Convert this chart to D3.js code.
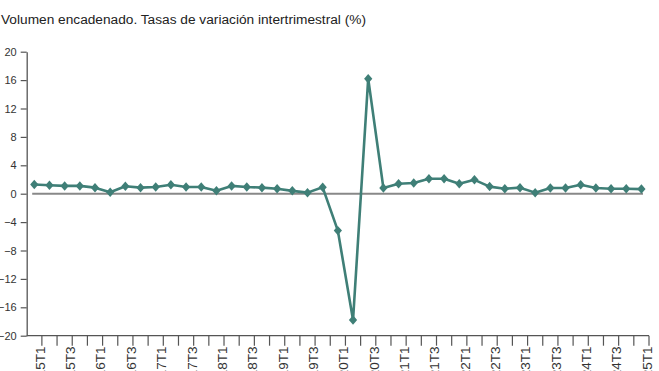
<!DOCTYPE html>
<html>
<head>
<meta charset="utf-8">
<script src="https://cdn.jsdelivr.net/npm/d3@7"></script>
<style>
  html, body { margin: 0; padding: 0; background: #fff; }
  svg { display: block; font-family: "Liberation Sans", Arial, sans-serif; }
</style>
</head>
<body>
<svg id="chart" width="659" height="371"></svg>
<script>
const title = "Volumen encadenado. Tasas de variación intertrimestral (%)";
const years = [2015, 2016, 2017, 2018, 2019, 2020, 2021, 2022, 2023, 2024, 2025];
const quarters = years.flatMap(y => [1, 2, 3, 4].map(q => y + "T" + q)).slice(0, 41);
const values = [
  1.3, 1.2, 1.1, 1.1,
  0.85, 0.2, 1.05, 0.85,
  0.95, 1.25, 0.95, 0.95,
  0.4, 1.1, 0.95, 0.85,
  0.7, 0.4, 0.15, 0.9,
  -5.2, -17.8, 16.2, 0.8,
  1.4, 1.5, 2.1, 2.1,
  1.4, 1.95, 1.0, 0.7,
  0.85, 0.15, 0.8, 0.8,
  1.25, 0.8, 0.7, 0.7,
  0.65
];
const yTicks = [-20, -16, -12, -8, -4, 0, 4, 8, 12, 16, 20];

const svg = d3.select("#chart");
const mLeft = 26.7, mRight = 649, mTop = 51.7, mBottom = 335.7;

const x = d3.scaleBand().domain(quarters).range([mLeft, mRight]).paddingInner(0).paddingOuter(0);
const y = d3.scaleLinear().domain([-20, 20]).range([mBottom, mTop]);
const cx = d => x(d) + x.bandwidth() / 2;

svg.append("text")
  .attr("x", 1).attr("y", 24)
  .attr("font-size", 13.7).attr("fill", "#222")
  .text(title);

// Y axis
const yAxis = d3.axisLeft(y).tickValues(yTicks).tickSize(6).tickPadding(4).tickSizeOuter(0);
const gy = svg.append("g").attr("transform", `translate(${mLeft},0)`).call(yAxis);
gy.select(".domain").attr("stroke", "#555").attr("stroke-width", 1.3);
gy.selectAll(".tick line").attr("stroke", "#555").attr("stroke-width", 1.2);
gy.selectAll(".tick text").attr("font-size", 11).attr("fill", "#333").attr("font-family", "Liberation Sans, Arial, sans-serif");

// X axis: line with ticks at category boundaries
const gx = svg.append("g").attr("transform", `translate(0,${mBottom})`);
gx.append("line").attr("x1", mLeft).attr("x2", mRight).attr("y1", 0).attr("y2", 0)
  .attr("stroke", "#555").attr("stroke-width", 1.3);
const boundaries = quarters.map(q => x(q)).concat([mRight]);
gx.selectAll("line.tk").data(boundaries.slice(1)).join("line")
  .attr("class", "tk")
  .attr("x1", d => d).attr("x2", d => d).attr("y1", 0).attr("y2", 10)
  .attr("stroke", "#555").attr("stroke-width", 1.2);
gx.selectAll("text.lbl").data(quarters.filter((q, i) => i % 2 === 0)).join("text")
  .attr("class", "lbl")
  .attr("transform", d => `translate(${cx(d) + 5.7},10.8) rotate(-90)`)
  .attr("text-anchor", "end")
  .attr("dy", "0.35em")
  .attr("font-size", 13.5).attr("fill", "#333")
  .text(d => d);

// Zero line
svg.append("line")
  .attr("x1", mLeft + 5.5).attr("x2", mRight - 6)
  .attr("y1", y(0)).attr("y2", y(0))
  .attr("stroke", "#888").attr("stroke-width", 2);

// Series line
const color = "#3f7f77";
const line = d3.line().x((d, i) => cx(quarters[i])).y(d => y(d));
svg.append("path").datum(values)
  .attr("d", line).attr("fill", "none")
  .attr("stroke", color).attr("stroke-width", 2.6).attr("stroke-linejoin", "round");

// Diamond markers
const diamond = d3.symbol().type(d3.symbolSquare).size(34);
svg.selectAll("path.mk").data(values).join("path")
  .attr("class", "mk")
  .attr("d", diamond)
  .attr("transform", (d, i) => `translate(${cx(quarters[i])},${y(d)}) scale(1,1.15) rotate(45)`)
  .attr("fill", color);
</script>
</body>
</html>
